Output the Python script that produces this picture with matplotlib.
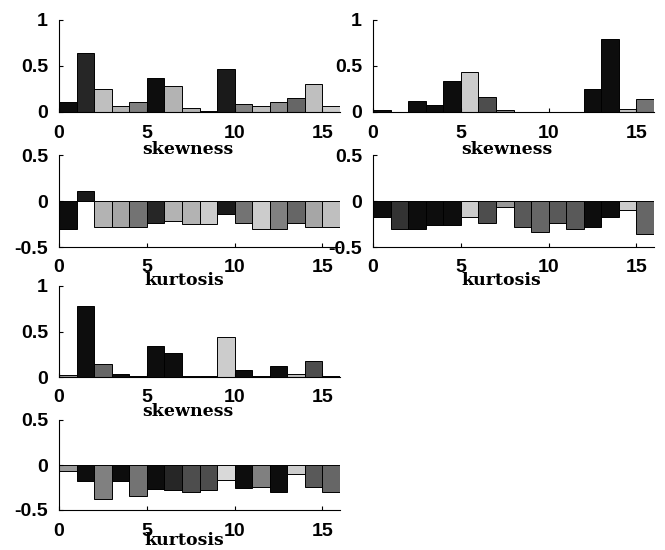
import numpy as np
from matplotlib import pyplot as plt

plt.rcParams['axes.unicode_minus'] = False

bins = np.arange(16)

# left column, top pair
skew_a = [0.11, 0.64, 0.25, 0.06, 0.11, 0.37, 0.28, 0.04, 0.01, 0.47, 0.09, 0.06, 0.11, 0.155, 0.30, 0.06]
kurt_a = [-0.30, 0.11, -0.28, -0.28, -0.28, -0.235, -0.22, -0.255, -0.255, -0.145, -0.235, -0.30, -0.30, -0.235, -0.28, -0.28]
# right column
skew_b = [0.02, 0.0, 0.12, 0.075, 0.34, 0.44, 0.16, 0.02, 0.0, 0.0, 0.005, 0.0, 0.245, 0.79, 0.03, 0.14]
kurt_b = [-0.17, -0.30, -0.30, -0.26, -0.26, -0.17, -0.235, -0.07, -0.28, -0.34, -0.235, -0.30, -0.28, -0.17, -0.10, -0.36]
# left column, bottom pair
skew_c = [0.025, 0.78, 0.14, 0.03, 0.01, 0.34, 0.26, 0.01, 0.01, 0.44, 0.08, 0.01, 0.125, 0.03, 0.175, 0.01]
kurt_c = [-0.067, -0.175, -0.38, -0.175, -0.345, -0.27, -0.28, -0.30, -0.28, -0.165, -0.26, -0.24, -0.30, -0.10, -0.24, -0.30]

# gray level of every bar (halftone shade in the scan)
shade_skew_a = [0.05, 0.15, 0.75, 0.7, 0.5, 0.05, 0.7, 0.7, 0.6, 0.1, 0.5, 0.75, 0.55, 0.4, 0.75, 0.8]
shade_kurt_a = [0.05, 0.1, 0.7, 0.65, 0.45, 0.15, 0.7, 0.7, 0.8, 0.1, 0.45, 0.8, 0.5, 0.4, 0.65, 0.75]
shade_skew_b = [0.05, 0.5, 0.05, 0.05, 0.05, 0.8, 0.3, 0.5, 0.5, 0.5, 0.5, 0.5, 0.05, 0.05, 0.75, 0.45]
shade_kurt_b = [0.05, 0.2, 0.05, 0.05, 0.05, 0.8, 0.3, 0.6, 0.35, 0.4, 0.35, 0.35, 0.05, 0.05, 0.8, 0.4]
shade_skew_c = [0.6, 0.05, 0.4, 0.05, 0.5, 0.05, 0.05, 0.5, 0.5, 0.8, 0.05, 0.5, 0.05, 0.75, 0.3, 0.5]
shade_kurt_c = [0.6, 0.05, 0.5, 0.05, 0.45, 0.05, 0.15, 0.3, 0.3, 0.85, 0.05, 0.5, 0.05, 0.8, 0.35, 0.4]

W, H = 665, 550
fig = plt.figure(figsize=(W / 100, H / 100), dpi=100)

def px_axes(x0, x1, top, bottom):
    return fig.add_axes([x0 / W, 1 - bottom / H, (x1 - x0) / W, (bottom - top) / H])

def panel(ax, vals, shades, ylim, yticks, label, lx, ly):
    cols = [str(s) for s in shades]
    ax.bar(bins, vals, width=1.0, align='edge', color=cols, edgecolor='black', linewidth=0.7)
    ax.set_xlim(0, 16)
    ax.set_ylim(*ylim)
    ax.set_xticks([0, 5, 10, 15])
    ax.set_yticks(yticks)
    ax.set_yticklabels(['%g' % t for t in yticks])
    ax.spines['top'].set_visible(False)
    ax.spines['right'].set_visible(False)
    ax.tick_params(direction='in', length=3, width=0.8, labelsize=14)
    ax.tick_params(axis='x', pad=9)
    ax.tick_params(axis='y', pad=8)
    for t in ax.get_xticklabels() + ax.get_yticklabels():
        t.set_fontfamily('Liberation Sans')
        t.set_fontweight('bold')
    ax.set_xlabel(label, fontfamily='DejaVu Serif', fontweight='bold', fontsize=12.5)
    ax.xaxis.set_label_coords(lx, ly)

ax1 = px_axes(59, 340, 20, 112)
panel(ax1, skew_a, shade_skew_a, (0, 1), [0, 0.5, 1], 'skewness', 0.46, -0.31)
ax2 = px_axes(59, 340, 155, 247)
panel(ax2, kurt_a, shade_kurt_a, (-0.5, 0.5), [-0.5, 0, 0.5], 'kurtosis', 0.445, -0.27)
ax3 = px_axes(373, 654, 20, 112)
panel(ax3, skew_b, shade_skew_b, (0, 1), [0, 0.5, 1], 'skewness', 0.478, -0.31)
ax4 = px_axes(373, 654, 155, 247)
panel(ax4, kurt_b, shade_kurt_b, (-0.5, 0.5), [-0.5, 0, 0.5], 'kurtosis', 0.455, -0.27)
ax5 = px_axes(59, 340, 286, 377)
panel(ax5, skew_c, shade_skew_c, (0, 1), [0, 0.5, 1], 'skewness', 0.46, -0.29)
ax6 = px_axes(59, 340, 420, 510)
panel(ax6, kurt_c, shade_kurt_c, (-0.5, 0.5), [-0.5, 0, 0.5], 'kurtosis', 0.445, -0.245)

plt.savefig("out.png", dpi=100)
